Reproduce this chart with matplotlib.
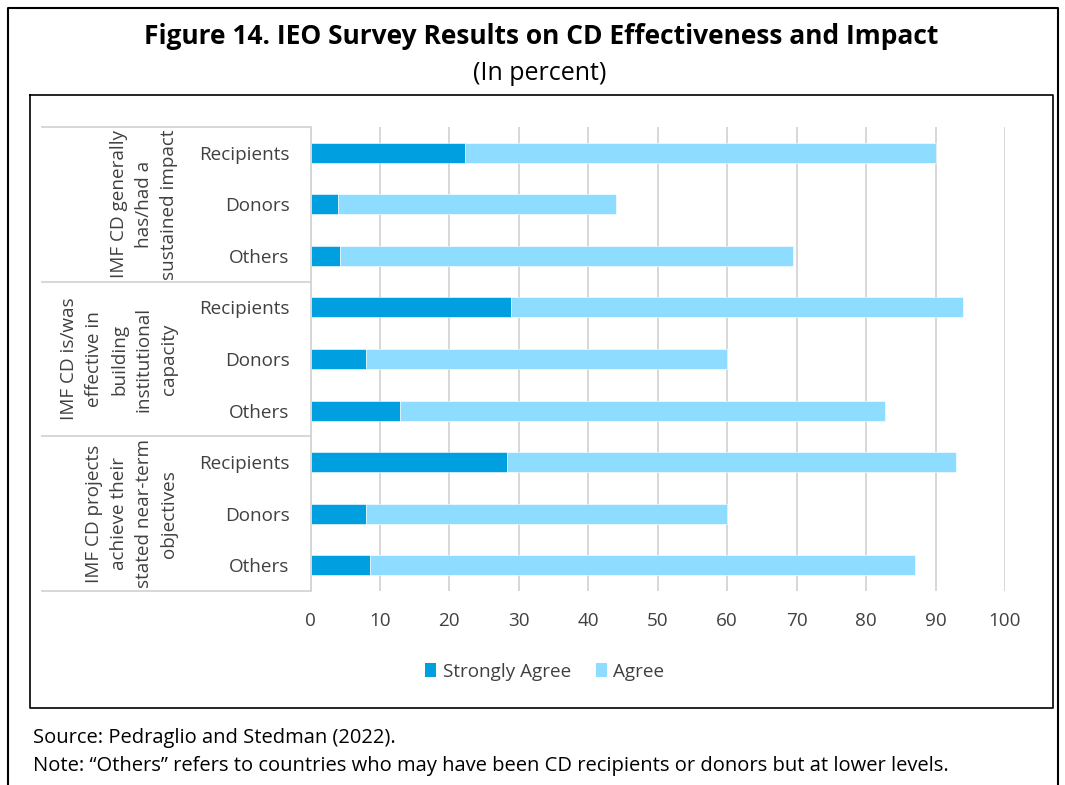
import matplotlib
matplotlib.use("Agg")
import matplotlib.pyplot as plt
from matplotlib.lines import Line2D
from matplotlib.patches import Patch
from matplotlib.transforms import blended_transform_factory
import numpy as np

plt.rcParams['font.family'] = ['Open Sans', 'DejaVu Sans']

# ---- data ----
groups = [
    "IMF CD generally\nhas/had a\nsustained impact",
    "IMF CD is/was\neffective in\nbuilding\ninstitutional\ncapacity",
    "IMF CD projects\nachieve their\nstated near-term\nobjectives",
]
respondents = ["Recipients", "Donors", "Others"]
strongly_agree = [22.2, 3.9, 4.2, 28.8, 8.0, 12.9, 28.3, 8.0, 8.6]
total_agree = [90.0, 44.0, 69.5, 94.0, 60.0, 82.7, 92.9, 60.0, 87.0]
agree = [t - s for t, s in zip(total_agree, strongly_agree)]
xticks = [0, 10, 20, 30, 40, 50, 60, 70, 80, 90, 100]
series_names = ["Strongly Agree", "Agree"]

C_SA = "#009FE0"
C_A = "#8EDCFF"
GRID = "#D4D4D4"
TXT = "#404040"
FS = 13.6

W, H = 1065, 785
fig = plt.figure(figsize=(W / 100, H / 100), dpi=100)

def fx(px):
    return px / W

def fy(py):
    return 1 - py / H

ax = fig.add_axes([fx(310.5), fy(591), fx(1005) - fx(310.5), fy(127) - fy(591)])

labels = respondents * len(groups)
y = np.arange(len(labels))
ax.barh(y, strongly_agree, height=0.39, color=C_SA, edgecolor="white", linewidth=0.4, zorder=3)
ax.barh(y, agree, left=strongly_agree, height=0.39, color=C_A, edgecolor="white", linewidth=0.4, zorder=3)

ax.set_xlim(0, 100)
ax.set_ylim(len(labels) - 0.5, -0.5)
ax.set_xticks(xticks)
ax.set_xticklabels([str(v) for v in xticks], fontsize=FS, color=TXT)
ax.set_yticks(y)
ax.set_yticklabels(labels, fontsize=FS, color=TXT)
ax.tick_params(axis="x", length=0, pad=15)
ax.tick_params(axis="y", length=0, pad=15)
ax.grid(axis="x", color=GRID, linewidth=1.3, zorder=0)
for s in ["top", "right", "bottom"]:
    ax.spines[s].set_visible(False)
ax.spines["left"].set_color(GRID)
ax.spines["left"].set_linewidth(1.3)

# group separators and labels
tr = blended_transform_factory(fig.transFigure, ax.transData)
for b in [-0.5, 2.5, 5.5, 8.5]:
    fig.add_artist(Line2D([fx(42), fx(310)], [b, b], transform=tr, color=GRID, linewidth=1.3))
for i, g in enumerate(groups):
    ax.text(fx(178), 3 * i + 1, g, transform=tr, rotation=90, ha="right", va="center",
            multialignment="center", fontsize=FS, color=TXT, linespacing=1.5)

# legend
handles = [Patch(facecolor=C_SA, label=series_names[0]), Patch(facecolor=C_A, label=series_names[1])]
fig.legend(handles=handles, loc="center", bbox_to_anchor=(fx(545), fy(672)), ncol=2, frameon=False,
           fontsize=FS, labelcolor=TXT, handlelength=0.58, handleheight=0.75, handletextpad=0.35,
           columnspacing=1.3)

# titles
fig.text(fx(541), fy(36), "Figure 14. IEO Survey Results on CD Effectiveness and Impact",
         ha="center", va="center", fontsize=19, fontweight="bold", color="black")
fig.text(fx(540), fy(73), "(In percent)", ha="center", va="center", fontsize=18, color="black")

# footnotes
fig.text(fx(33), fy(738), "Source: Pedraglio and Stedman (2022).", ha="left", va="center", fontsize=14.5, color="black")
fig.text(fx(33), fy(766), "Note: \u201cOthers\u201d refers to countries who may have been CD recipients or donors but at lower levels.",
         ha="left", va="center", fontsize=14.5, color="black")

# frames
fig.add_artist(Line2D([fx(8), fx(8), fx(1058), fx(1058)], [0, fy(8), fy(8), 0],
                      transform=fig.transFigure, color="black", linewidth=1.5))
fig.add_artist(Line2D([fx(30), fx(1053), fx(1053), fx(30), fx(30)],
                      [fy(95), fy(95), fy(708), fy(708), fy(95)],
                      transform=fig.transFigure, color="black", linewidth=1.2))

fig.savefig("out.png", dpi=100)
